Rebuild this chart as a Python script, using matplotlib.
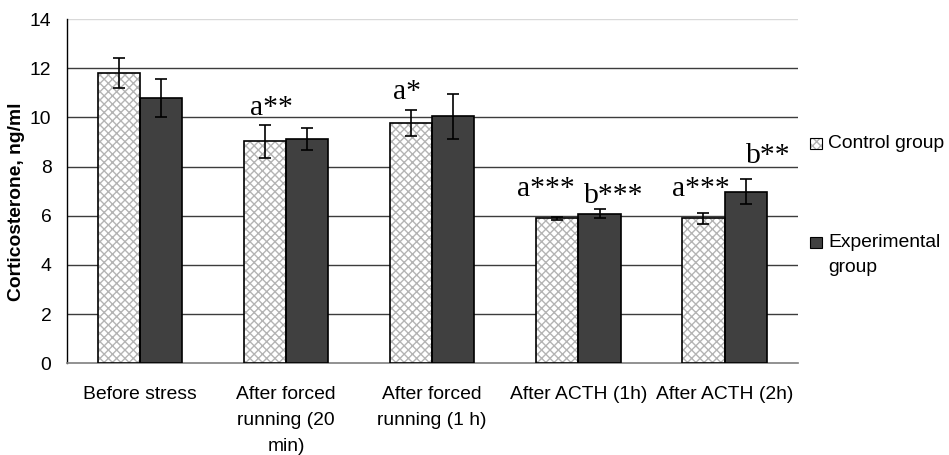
import matplotlib
matplotlib.use("Agg")
import matplotlib.pyplot as plt
from matplotlib.patches import Rectangle
import numpy as np

categories = ["Before stress", "After forced\nrunning (20\nmin)", "After forced\nrunning (1 h)",
              "After ACTH (1h)", "After ACTH (2h)"]
control = [11.8, 9.02, 9.76, 5.89, 5.89]
control_err = [0.61, 0.69, 0.53, 0.05, 0.24]
experimental = [10.79, 9.11, 10.04, 6.09, 6.98]
experimental_err = [0.79, 0.44, 0.92, 0.20, 0.52]
series_names = ["Control group", "Experimental\ngroup"]
y_ticks = [0, 2, 4, 6, 8, 10, 12, 14]
# annotations: (category index, series 0=control 1=experimental, text, x shift, baseline y)
annotations = [
    (1, 0, "a**", 0.046, 10.09),
    (2, 0, "a*", -0.026, 10.75),
    (3, 0, "a***", -0.077, 6.8),
    (3, 1, "b***", 0.10, 6.53),
    (4, 0, "a***", -0.018, 6.8),
    (4, 1, "b**", 0.157, 8.16),
]

plt.rcParams['font.family'] = ['Liberation Sans', 'DejaVu Sans']
plt.rcParams['hatch.linewidth'] = 1.0

W, H = 949, 455
fig = plt.figure(figsize=(W / 100, H / 100), dpi=100)
ax = fig.add_axes([66.7 / W, 1 - 363.3 / H, (797.7 - 66.7) / W, (363.3 - 19) / H])

x = np.arange(len(categories))
bw = 0.289
hatch_col = '#b4b4b4'

# control bars: hatch layer + outline
plt.rcParams['hatch.color'] = hatch_col
ax.bar(x - bw / 2, control, bw, color='white', hatch='xxxx', edgecolor=hatch_col, linewidth=0, zorder=3)
ax.bar(x - bw / 2, control, bw, color='none', edgecolor='black', linewidth=1.2, zorder=4)
ax.bar(x + bw / 2, experimental, bw, color='#404040', edgecolor='black', linewidth=1.2, zorder=3)

ax.errorbar(x - bw / 2, control, yerr=control_err, fmt='none', ecolor='black', elinewidth=1.2,
            capsize=4, capthick=1.2, zorder=5)
ax.errorbar(x + bw / 2, experimental, yerr=experimental_err, fmt='none', ecolor='black', elinewidth=1.2,
            capsize=4, capthick=1.2, zorder=5)

for ci, s, txt, dx, yb in annotations:
    xc = x[ci] + (-bw / 2 if s == 0 else bw / 2) + dx
    ax.text(xc, yb, txt, ha='center', va='baseline', fontsize=21.3,
            family=['Liberation Serif', 'DejaVu Serif'], zorder=6)

ax.set_xlim(-0.5, len(categories) - 0.5)
ax.set_ylim(0, 14)
ax.set_yticks(y_ticks)
ax.set_yticklabels([str(t) for t in y_ticks], fontsize=13.9)
ax.set_xticks(x)
ax.set_xticklabels(categories, fontsize=13.9, linespacing=1.7)
ax.tick_params(axis='both', length=0)
ax.tick_params(axis='y', pad=11)
ax.tick_params(axis='x', pad=16.5)

ax.yaxis.grid(True, color='#3c3c3c', linewidth=1.0, zorder=0)
ax.set_axisbelow(True)
gl = ax.get_ygridlines()
gl[-1].set_color('#d9d9d9')
gl[0].set_visible(False)
for sp in ['top', 'right']:
    ax.spines[sp].set_visible(False)
ax.spines['left'].set_color('black')
ax.spines['left'].set_linewidth(1.0)
ax.spines['bottom'].set_color('#7f7f7f')
ax.spines['bottom'].set_linewidth(1.2)

fig.text(17 / W, 1 - 201.5 / H, "Corticosterone, ng/ml", rotation=90, ha='center', va='center',
         fontsize=13.9, fontweight='bold')

# legend (drawn manually to mimic the spreadsheet layout)
msz = 11.5
leg_rows = [143.3, 242.7]
for i, (name, yc) in enumerate(zip(series_names, leg_rows)):
    if i == 0:
        fig.add_artist(Rectangle((810 / W, 1 - (yc + msz / 2) / H), msz / W, msz / H,
                                 transform=fig.transFigure, facecolor='white', hatch='xxxx',
                                 edgecolor=hatch_col, linewidth=0))
        fig.add_artist(Rectangle((810 / W, 1 - (yc + msz / 2) / H), msz / W, msz / H,
                                 transform=fig.transFigure, facecolor='none', edgecolor='black',
                                 linewidth=0.8))
        fig.text(828.3 / W, 1 - yc / H, name, ha='left', va='center', fontsize=13.9)
    else:
        fig.add_artist(Rectangle((810 / W, 1 - (yc + msz / 2) / H), msz / W, msz / H,
                                 transform=fig.transFigure, facecolor='#404040', edgecolor='black',
                                 linewidth=0.8))
        fig.text(828.3 / W, 1 - (yc - 9) / H, name, ha='left', va='top', fontsize=13.9,
                 linespacing=1.6)

fig.savefig("out.png", dpi=100)
